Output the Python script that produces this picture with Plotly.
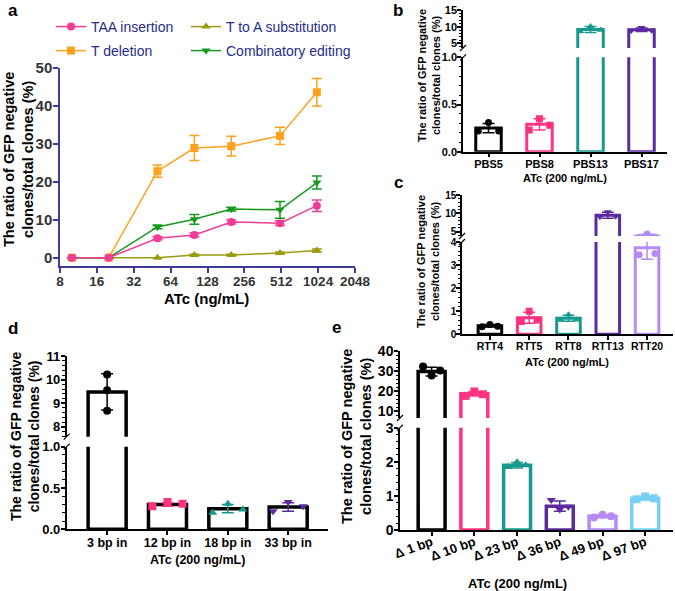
import math
import plotly.graph_objects as go

W, H = 675, 591
FONT = "Liberation Sans, Arial, sans-serif"
NAVY = "#1f2d8a"
AXBLUE = "#3d3d99"

# ---------------- Panel a data ----------------
atc_conc = [10, 20, 50, 100, 200, 500, 1000]
a_xticks = [8, 16, 32, 64, 128, 256, 512, 1024, 2048]
taa_ins = [0, 0, 5.1, 6.0, 9.4, 9.1, 13.7]
taa_ins_err = [0, 0, 0.4, 0.5, 0.5, 0.6, 1.5]
t_del = [0, 0, 22.8, 28.9, 29.4, 32.1, 43.6]
t_del_err = [0, 0, 1.6, 3.3, 2.6, 2.3, 3.6]
t_to_a = [0, 0, 0.0, 0.7, 0.7, 1.2, 1.9]
t_to_a_err = [0, 0, 0, 0.2, 0.2, 0.3, 0.4]
comb = [0, 0, 8.1, 10.1, 12.8, 12.6, 19.8]
comb_err = [0, 0, 0.5, 1.3, 0.5, 2.2, 1.7]

# ---------------- Panel b data ----------------
b_labels = ["PBS5", "PBS8", "PBS13", "PBS17"]
b_means = [0.25, 0.29, 9.2, 9.1]
b_sds = [0.05, 0.06, 0.9, 0.5]
b_reps = [[0.22, 0.31, 0.22], [0.23, 0.35, 0.28], [8.6, 10.1, 9.0], [8.9, 9.7, 8.9]]

# ---------------- Panel c data ----------------
c_labels = ["RTT4", "RTT5", "RTT8", "RTT13", "RTT20"]
c_means = [0.37, 0.72, 0.70, 9.5, 3.75]
c_sds = [0.05, 0.24, 0.13, 0.8, 0.5]
c_reps = [[0.33, 0.42, 0.35], [0.55, 1.0, 0.62], [0.62, 0.85, 0.63], [9.1, 10.4, 9.2], [3.45, 4.35, 3.5]]

# ---------------- Panel d data ----------------
d_labels = ["3 bp in", "12 bp in", "18 bp in", "33 bp in"]
d_means = [9.48, 0.30, 0.25, 0.27]
d_sds = [0.77, 0.02, 0.05, 0.05]
d_reps = [[9.55, 10.22, 8.68], [0.28, 0.33, 0.31], [0.20, 0.31, 0.24], [0.22, 0.33, 0.28]]

# ---------------- Panel e data ----------------
e_labels = ["Δ 1 bp", "Δ 10 bp", "Δ 23 bp", "Δ 36 bp", "Δ 49 bp", "Δ 97 bp"]
e_means = [29.8, 18.6, 1.90, 0.70, 0.40, 0.93]
e_sds = [2.2, 1.1, 0.08, 0.15, 0.04, 0.05]
e_reps = [[32.3, 27.8, 30.3], [17.6, 19.8, 18.4], [1.85, 1.99, 1.90], [0.88, 0.60, 0.68], [0.37, 0.45, 0.40], [0.90, 0.98, 0.93]]

# ---------------- styles ----------------
BLACK = "#000000"
PINK = "#ff3380"
TEAL = "#17998f"
PURPLE = "#5a2a9e"
LPURPLE = "#b68af5"
LBLUE = "#78cff5"


def fx(px):
    return px / W


def fy(py):
    return 1 - py / H


fig = go.Figure()

# ---------------- Panel a ----------------
series_a = [
    ("T deletion", t_del, t_del_err, "#ffa01f", "square", "legend2"),
    ("T to A substitution", t_to_a, t_to_a_err, "#9b9b12", "triangle-up", "legend3"),
    ("Combinatory editing", comb, comb_err, "#159a1c", "triangle-down", "legend4"),
    ("TAA insertion", taa_ins, taa_ins_err, "#f23c96", "circle", "legend"),
]
for name, vals, errs, col, sym, leg in series_a:
    fig.add_trace(go.Scatter(
        x=atc_conc, y=vals, name=name, mode="lines+markers",
        line=dict(color=col, width=1.5),
        marker=dict(symbol=sym, color=col, size=8),
        error_y=dict(type="data", array=errs, color=col, thickness=1.5, width=5),
        xaxis="x", yaxis="y", legend=leg, hoverinfo="skip"))


def add_bar_panel(xref, ylo, yhi, means, sds, reps, colors, symbols, outlines, offsets, bw, lw, msize):
    for i in range(len(means)):
        for ya in (ylo, yhi):
            fig.add_trace(go.Bar(
                x=[i], y=[means[i]], width=[bw],
                marker=dict(color="white", line=dict(color=outlines[i], width=lw)),
                error_y=dict(type="data", array=[sds[i]], color=colors[i], thickness=1.5, width=6),
                xaxis=xref, yaxis=ya, showlegend=False, hoverinfo="skip"))
            fig.add_trace(go.Scatter(
                x=[i + o for o in offsets[i]], y=reps[i], mode="markers",
                marker=dict(symbol=symbols[i], color=colors[i], size=msize),
                xaxis=xref, yaxis=ya, showlegend=False, hoverinfo="skip"))


OFF = [-0.2, 0.0, 0.2]

add_bar_panel("x2", "y2", "y3", b_means, b_sds, b_reps,
              [BLACK, PINK, TEAL, PURPLE],
              ["circle", "square", "triangle-up", "triangle-down"],
              [BLACK, PINK, TEAL, PURPLE], [OFF] * 4, 0.5, 3, 7)
add_bar_panel("x3", "y4", "y5", c_means, c_sds, c_reps,
              [BLACK, PINK, TEAL, PURPLE, LPURPLE],
              ["circle", "square", "triangle-up", "triangle-down", "circle"],
              [BLACK, PINK, TEAL, PURPLE, LPURPLE], [OFF] * 5, 0.6, 3, 7)
add_bar_panel("x4", "y6", "y7", d_means, d_sds, d_reps,
              [BLACK, PINK, TEAL, PURPLE],
              ["circle", "square", "triangle-up", "triangle-down"],
              [BLACK] * 4, [[0, 0, 0], [-0.25, 0, 0.25], [-0.25, 0, 0.25], [-0.25, 0, 0.25]], 0.63, 3.5, 8)
add_bar_panel("x5", "y8", "y9", e_means, e_sds, e_reps,
              [BLACK, PINK, TEAL, PURPLE, LPURPLE, LBLUE],
              ["circle", "square", "triangle-up", "triangle-down", "circle", "square"],
              [BLACK, PINK, TEAL, PURPLE, LPURPLE, LBLUE], [OFF] * 6, 0.63, 3.5, 8)


def tfont(size, color="black"):
    return dict(family=FONT, size=size, color=color, weight="bold")


def yax(top, bot, rng, dtick, mdtick, anchor, fs, fmt=None, tick0=0, so=-2):
    d = dict(domain=[fy(bot), fy(top)], range=rng, anchor=anchor, automargin=False,
             showline=True, linecolor="black", linewidth=1.5,
             ticks="outside", ticklen=4, tickwidth=1.5, tickcolor="black",
             tick0=tick0, dtick=dtick, ticklabelstandoff=so,
             minor=dict(tick0=tick0, dtick=mdtick, ticks="outside", ticklen=2.5, tickwidth=1, tickcolor="black", showgrid=False),
             showgrid=False, zeroline=False, tickfont=tfont(fs), fixedrange=True)
    if fmt:
        d["tickformat"] = fmt
    return d


def xax(left, right, rng, labels, anchor, fs, angle=0, so=-3):
    return dict(domain=[fx(left), fx(right)], range=rng, anchor=anchor, automargin=False,
                tickmode="array", tickvals=list(range(len(labels))), ticktext=labels,
                showline=True, linecolor="black", linewidth=1.5,
                ticks="outside", ticklen=4, tickwidth=1.5, tickcolor="black",
                tickangle=angle, showgrid=False, zeroline=False, ticklabelstandoff=so,
                tickfont=tfont(fs), fixedrange=True)


layout = dict(
    template="none",
    width=W, height=H, autosize=False,
    margin=dict(l=0, r=0, t=0, b=0, pad=0),
    paper_bgcolor="white", plot_bgcolor="rgba(0,0,0,0)",
    barmode="overlay",
    font=dict(family=FONT),
    xaxis=dict(domain=[fx(60), fx(355)], type="log", range=[math.log10(8), math.log10(2048)],
               anchor="y", automargin=False, tickmode="array", tickvals=a_xticks,
               ticktext=[str(v) for v in a_xticks], ticklabelstandoff=-3,
               showline=True, linecolor=AXBLUE, linewidth=1.5, ticks="outside", ticklen=5,
               tickwidth=1.5, tickcolor=AXBLUE, showgrid=False, zeroline=False,
               tickfont=tfont(13.5, "#333333"), fixedrange=True),
    yaxis=dict(domain=[fy(266), fy(68)], range=[-2.2, 50], anchor="x", automargin=False,
               tickmode="linear", tick0=0, dtick=10, ticklabelstandoff=-2,
               showline=True, linecolor=AXBLUE, linewidth=1.5, ticks="outside", ticklen=5,
               tickwidth=1.5, tickcolor=AXBLUE, showgrid=False, zeroline=False,
               tickfont=tfont(15, "#333333"), fixedrange=True),
    xaxis2=xax(463, 667, [-0.5, 3.5], b_labels, "y2", 11),
    yaxis2=yax(57.3, 151.7, [0, 1.0], 0.5, 0.1, "x2", 11, ".1f"),
    yaxis3=yax(10, 48, [3.6, 15.05], 5, 1, "x2", 11),
    xaxis3=xax(462, 673, [-0.71, 4.66], c_labels, "y4", 10.5),
    yaxis4=yax(242, 334.3, [0, 4], 1, 0.2, "x3", 10),
    yaxis5=yax(195, 236, [3.8, 15.05], 5, 1, "x3", 10),
    xaxis4=xax(66.7, 328, [-0.67, 3.66], d_labels, "y6", 12.5),
    yaxis6=yax(446.7, 529.3, [0, 1.0], 0.5, 0.1, "x4", 13, ".1f"),
    yaxis7=yax(355.7, 436.7, [7.58, 11.02], 1, 0.2, "x4", 13),
    xaxis5=xax(400, 673, [-0.74, 5.65], e_labels, "y8", 13, -20, -6),
    yaxis8=yax(427.7, 530, [0, 3], 1, 0.2, "x5", 14),
    yaxis9=yax(351, 418, [6.5, 40.1], 10, 2, "x5", 14),
)

# legends for panel a
leg_common = dict(bgcolor="rgba(0,0,0,0)", font=dict(family=FONT, size=14, color=NAVY),
                  xanchor="left", yanchor="middle", borderwidth=0, itemwidth=30)
layout["legend"] = dict(x=fx(51), y=fy(27), **leg_common)
layout["legend2"] = dict(x=fx(51), y=fy(51), **leg_common)
layout["legend3"] = dict(x=fx(186), y=fy(27), **leg_common)
layout["legend4"] = dict(x=fx(186), y=fy(51), **leg_common)

fig.update_layout(**layout)

# annotations: panel letters and axis titles
ann = []


def A(text, px, py, size, angle=0, color="black"):
    ann.append(dict(text=text, x=fx(px), y=fy(py), xref="paper", yref="paper",
                    xanchor="center", yanchor="middle", showarrow=False, textangle=angle,
                    font=dict(family=FONT, size=size, color=color, weight="bold")))


for letter, px, py in [("a", 13, 10), ("b", 398, 10), ("c", 398, 183), ("d", 13, 328), ("e", 336, 327)]:
    A(letter, px, py, 17)

YT = "The ratio of GFP negative<br>clones/total clones (%)"
A(YT, 18, 160, 14.5, -90)
A(YT, 429, 76, 11, -90)
A(YT, 428, 262, 11, -90)
A(YT, 25, 436, 14, -90)
A(YT, 356, 437, 14.5, -90)

A("ATc (ng/mL)", 207, 298, 15)
A("ATc (200 ng/mL)", 565, 178, 11)
A("ATc (200 ng/mL)", 567, 362, 11)
A("ATc (200 ng/mL)", 197, 560, 12.5)
A("ATc (200 ng/mL)", 517, 583, 13)

fig.update_layout(annotations=ann)

# break marks on broken y-axes
shapes = []
for axx, ylow_top, yup_bot in [(463, 57.3, 48), (462, 242, 236), (66.7, 446.7, 436.7), (400, 427.7, 418)]:
    for py in (ylow_top, yup_bot):
        shapes.append(dict(type="line", xref="paper", yref="paper",
                           x0=fx(axx - 3), y0=fy(py + 3), x1=fx(axx + 3), y1=fy(py - 3),
                           line=dict(color="black", width=1.2)))
fig.update_layout(shapes=shapes)

fig.write_html("out.html", config={"displayModeBar": False},
               post_script="document.body.style.margin='0';document.body.style.padding='0';")
